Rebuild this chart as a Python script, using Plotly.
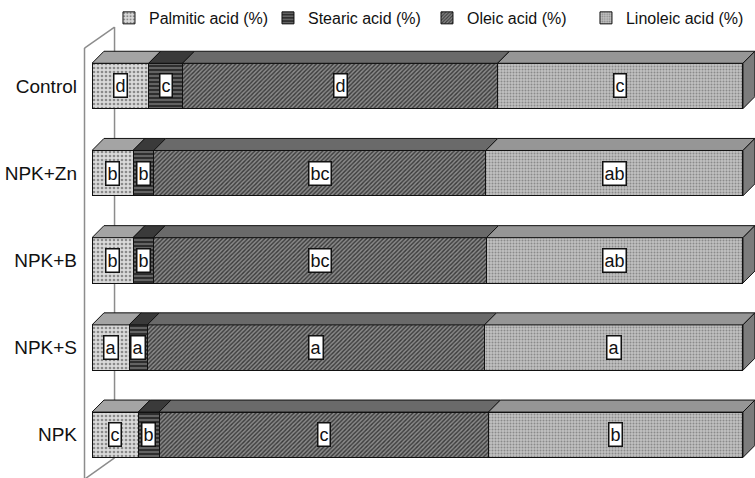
import plotly.graph_objects as go

categories = ["NPK", "NPK+S", "NPK+B", "NPK+Zn", "Control"]
series_names = ["Palmitic acid (%)", "Stearic acid (%)", "Oleic acid (%)", "Linoleic acid (%)"]

palmitic = [7.1, 5.7, 6.3, 6.3, 8.7]
stearic = [3.2, 2.8, 3.1, 3.2, 5.2]
oleic = [50.6, 51.8, 51.2, 51.0, 48.4]
linoleic = [39.1, 39.7, 39.4, 39.5, 37.7]

letters_palmitic = ["c", "a", "b", "b", "d"]
letters_stearic = ["b", "a", "b", "b", "c"]
letters_oleic = ["c", "a", "bc", "bc", "d"]
letters_linoleic = ["b", "a", "ab", "ab", "c"]

series = [palmitic, stearic, oleic, linoleic]
letters = [letters_palmitic, letters_stearic, letters_oleic, letters_linoleic]

front_bg = ["#dadada", "#2e2e2e", "#8a8a8a", "#c2c2c2"]
front_fg = ["#8a8a8a", "#7a7a7a", "#3a3a3a", "#8a8a8a"]
front_shape = [".", "-", "/", "."]
front_size = [4, 4, 3, 3]
front_sol = [0.35, 0.35, 0.45, 0.35]
top_col = ["#a4a4a4", "#3a3a3a", "#6a6a6a", "#969696"]
side_col = "#7c7c7c"

FONT = "Liberation Sans, Arial, sans-serif"
BW = 0.52
DX = 1.84
DY = 0.138

idx = list(range(len(categories)))
fig = go.Figure()

# front faces
for k in range(4):
    fig.add_trace(go.Bar(
        orientation="h", y=idx, x=series[k], name=series_names[k], width=BW,
        marker=dict(color=front_bg[k], line=dict(color="#111111", width=1),
                    pattern=dict(shape=front_shape[k], fgcolor=front_fg[k], bgcolor=front_bg[k],
                                 size=front_size[k], solidity=front_sol[k], fillmode="replace")),
        hoverinfo="skip",
    ))

# top faces and side faces computed from data
totals = [sum(series[k][j] for k in range(4)) for j in idx]
for k in range(4):
    xs, ys = [], []
    for j in idx:
        start = sum(series[m][j] for m in range(k)) / totals[j] * 100
        end = start + series[k][j] / totals[j] * 100
        yt = j + BW / 2
        xs += [start, end, end + DX, start + DX, start, None]
        ys += [yt, yt, yt + DY, yt + DY, yt, None]
    fig.add_trace(go.Scatter(x=xs, y=ys, fill="toself", mode="lines",
                             fillcolor=top_col[k], line=dict(color="#111111", width=1),
                             showlegend=False, hoverinfo="skip"))

xs, ys = [], []
for j in idx:
    yb, yt = j - BW / 2, j + BW / 2
    xs += [100, 100, 100 + DX, 100 + DX, 100, None]
    ys += [yb, yt, yt + DY, yb + DY, yb, None]
fig.add_trace(go.Scatter(x=xs, y=ys, fill="toself", mode="lines", fillcolor=side_col,
                         line=dict(color="#111111", width=1), showlegend=False, hoverinfo="skip"))

# letter labels
annotations = []
for k in range(4):
    for j in idx:
        start = sum(series[m][j] for m in range(k)) / totals[j] * 100
        mid = start + series[k][j] / totals[j] * 100 / 2
        annotations.append(dict(x=mid, y=j, xref="x", yref="y", text=letters[k][j], showarrow=False,
                                font=dict(family=FONT, size=18, color="#111111"),
                                bgcolor="white", bordercolor="#111111", borderwidth=1.5, borderpad=1))

# 3D wall outline
wall = "#8c8c8c"
shapes = [
    dict(type="line", xref="paper", yref="paper", x0=-0.0113, y0=0.977, x1=-0.0113, y1=-0.04,
         line=dict(color=wall, width=1.5), layer="below"),
    dict(type="line", xref="paper", yref="paper", x0=-0.0113, y0=0.977, x1=0.034, y1=1.025,
         line=dict(color=wall, width=1.5), layer="below"),
    dict(type="line", xref="paper", yref="paper", x0=0.034, y0=1.025, x1=0.034, y1=0.037,
         line=dict(color=wall, width=1.5), layer="below"),
    dict(type="line", xref="paper", yref="paper", x0=0.034, y0=0.037, x1=-0.0113, y1=-0.012,
         line=dict(color=wall, width=1.5), layer="below"),
]

fig.update_layout(
    width=755, height=478,
    barmode="stack", barnorm="percent",
    margin=dict(l=92, r=0, t=38, b=4, autoexpand=False),
    paper_bgcolor="white", plot_bgcolor="white",
    font=dict(family=FONT, size=18, color="#111111"),
    xaxis=dict(range=[0, 101.85], visible=False, showgrid=False, zeroline=False, automargin=False),
    yaxis=dict(range=[-0.45, 4.55], tickvals=idx, ticktext=categories, showgrid=False,
               zeroline=False, showline=False, ticks="", ticklabelstandoff=14, automargin=False,
               tickfont=dict(family=FONT, size=19, color="#111111")),
    legend=dict(orientation="h", x=0.0256, y=1.046, xref="paper", yref="paper",
                xanchor="left", yanchor="middle", traceorder="normal",
                font=dict(family=FONT, size=16, color="#111111"), itemwidth=30,
                entrywidth=114, entrywidthmode="pixels",
                tracegroupgap=0, bgcolor="rgba(0,0,0,0)"),
    annotations=annotations, shapes=shapes,
    showlegend=True,
)

fig.write_html("out.html", config={"displayModeBar": False},
               post_script="document.body.style.margin='0';document.body.style.padding='0';")
